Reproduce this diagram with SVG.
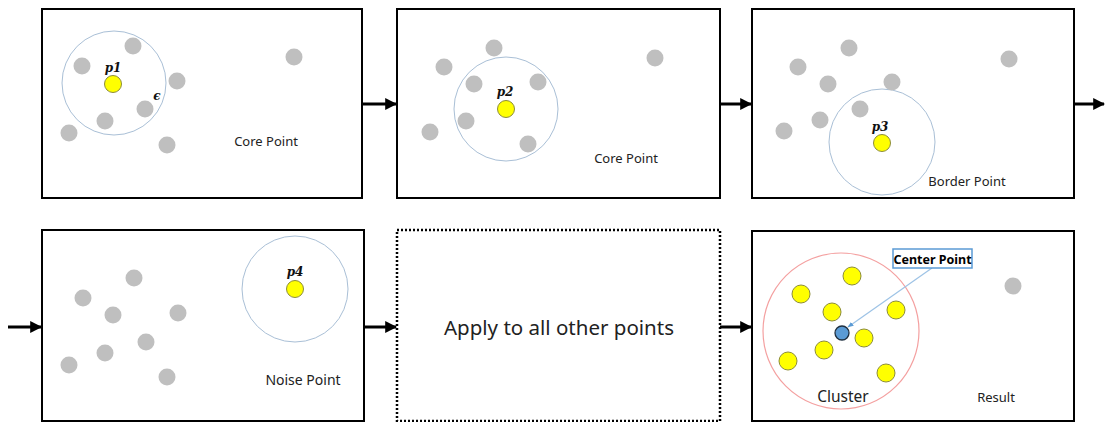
<svg xmlns="http://www.w3.org/2000/svg" width="1105" height="422" viewBox="0 0 1105 422">
  <defs>
    <marker id="head" viewBox="0 0 10 10" refX="9" refY="5" markerWidth="4" markerHeight="4" markerUnits="strokeWidth" orient="auto">
      <path d="M0,0 L10,5 L0,10 z" fill="#000"/>
    </marker>
    <marker id="headBlue" viewBox="0 0 10 10" refX="9" refY="5" markerWidth="6" markerHeight="6" markerUnits="userSpaceOnUse" orient="auto">
      <path d="M0,1 L10,5 L0,9 z" fill="#5b9bd5"/>
    </marker>
  </defs>
  <style>
    .panel { fill: #fff; stroke: #000; stroke-width: 2; }
    .dotted { fill: #fff; stroke: #000; stroke-width: 2.5; stroke-dasharray: 2 2; }
    .eps { fill: none; stroke: #a9bfd6; stroke-width: 1; }
    .clus { fill: none; stroke: #f4a0a0; stroke-width: 1.2; }
    .g { fill: #bfbfbf; }
    .y { fill: #ffff00; stroke: #8c8c3a; stroke-width: 1; }
    .c { fill: #5b9bd5; stroke: #1f2f3f; stroke-width: 1.3; }
    .lbl { font-family: "Noto Sans", "Open Sans", sans-serif; font-size: 13px; fill: #222; text-anchor: middle; }
    .math { font-family: "DejaVu Serif", "Liberation Serif", serif; font-weight: bold; font-style: italic; font-size: 12px; fill: #111; text-anchor: middle; }
    .flow { stroke: #000; stroke-width: 3; fill: none; }
  </style>
  <rect width="1105" height="422" fill="#fff"/>

  <!-- flow connectors -->
  <g id="connectors">
    <line class="flow" x1="362" y1="104" x2="396" y2="104" marker-end="url(#head)"/>
    <line class="flow" x1="720" y1="104" x2="751" y2="104" marker-end="url(#head)"/>
    <line class="flow" x1="1074" y1="104" x2="1104" y2="104" marker-end="url(#head)"/>
    <line class="flow" x1="8" y1="327" x2="41" y2="327" marker-end="url(#head)"/>
    <line class="flow" x1="364" y1="327" x2="396" y2="327" marker-end="url(#head)"/>
    <line class="flow" x1="720" y1="327" x2="751" y2="327" marker-end="url(#head)"/>
  </g>

  <!-- step 1: core point p1 -->
  <g id="step-core-1">
    <rect class="panel" x="42" y="9" width="320" height="189"/>
    <circle class="eps" cx="114" cy="83" r="52"/>
    <circle class="g" cx="133" cy="46" r="8.5"/>
    <circle class="g" cx="82" cy="66" r="8.5"/>
    <circle class="g" cx="177" cy="81" r="8.5"/>
    <circle class="g" cx="145" cy="109" r="8.5"/>
    <circle class="g" cx="105" cy="121" r="8.5"/>
    <circle class="g" cx="69" cy="133" r="8.5"/>
    <circle class="g" cx="167" cy="145" r="8.5"/>
    <circle class="g" cx="294" cy="57" r="8.5"/>
    <circle class="y" cx="113" cy="84" r="8.5"/>
    <text class="math" x="113" y="72">p1</text>
    <text class="math" x="157" y="100">ϵ</text>
    <text class="lbl" x="266" y="146">Core Point</text>
  </g>

  <!-- step 2: core point p2 -->
  <g id="step-core-2">
    <rect class="panel" x="397" y="9" width="323" height="189"/>
    <circle class="eps" cx="506" cy="109" r="52"/>
    <circle class="g" cx="494" cy="48" r="8.5"/>
    <circle class="g" cx="444" cy="67" r="8.5"/>
    <circle class="g" cx="474" cy="84" r="8.5"/>
    <circle class="g" cx="538" cy="82" r="8.5"/>
    <circle class="g" cx="466" cy="121" r="8.5"/>
    <circle class="g" cx="430" cy="132" r="8.5"/>
    <circle class="g" cx="528" cy="144" r="8.5"/>
    <circle class="g" cx="655" cy="58" r="8.5"/>
    <circle class="y" cx="506" cy="109" r="8.5"/>
    <text class="math" x="505" y="96">p2</text>
    <text class="lbl" x="626" y="163">Core Point</text>
  </g>

  <!-- step 3: border point p3 -->
  <g id="step-border">
    <rect class="panel" x="752" y="9" width="322" height="189"/>
    <circle class="eps" cx="882" cy="142" r="53"/>
    <circle class="g" cx="849" cy="48" r="8.5"/>
    <circle class="g" cx="798" cy="67" r="8.5"/>
    <circle class="g" cx="828" cy="84" r="8.5"/>
    <circle class="g" cx="892" cy="82" r="8.5"/>
    <circle class="g" cx="860" cy="109" r="8.5"/>
    <circle class="g" cx="820" cy="120" r="8.5"/>
    <circle class="g" cx="784" cy="131" r="8.5"/>
    <circle class="g" cx="1009" cy="59" r="8.5"/>
    <circle class="y" cx="882" cy="143" r="8.5"/>
    <text class="math" x="880" y="131">p3</text>
    <text class="lbl" x="967" y="186">Border Point</text>
  </g>

  <!-- step 4: noise point p4 -->
  <g id="step-noise">
    <rect class="panel" x="42" y="230" width="322" height="191"/>
    <circle class="eps" cx="295" cy="289" r="53"/>
    <circle class="g" cx="134" cy="278" r="8.5"/>
    <circle class="g" cx="83" cy="298" r="8.5"/>
    <circle class="g" cx="113" cy="315" r="8.5"/>
    <circle class="g" cx="178" cy="313" r="8.5"/>
    <circle class="g" cx="146" cy="342" r="8.5"/>
    <circle class="g" cx="105" cy="353" r="8.5"/>
    <circle class="g" cx="69" cy="365" r="8.5"/>
    <circle class="g" cx="167" cy="377" r="8.5"/>
    <circle class="y" cx="295" cy="289" r="8.5"/>
    <text class="math" x="295" y="276">p4</text>
    <text class="lbl" x="303" y="385" style="font-size:14px">Noise Point</text>
  </g>

  <!-- step 5: repeat for every point -->
  <g id="step-repeat">
    <rect class="dotted" x="397" y="230" width="323" height="191"/>
    <text class="lbl" x="559" y="335" style="font-size:20.5px">Apply to all other points</text>
  </g>

  <!-- step 6: resulting cluster -->
  <g id="step-result">
    <rect class="panel" x="752" y="231" width="322" height="190"/>
    <circle class="clus" cx="841" cy="331" r="78"/>
    <circle class="y" cx="852" cy="276" r="9"/>
    <circle class="y" cx="801" cy="294" r="9"/>
    <circle class="y" cx="832" cy="312" r="9"/>
    <circle class="y" cx="896" cy="310" r="9"/>
    <circle class="y" cx="864" cy="338" r="9"/>
    <circle class="y" cx="824" cy="350" r="9"/>
    <circle class="y" cx="788" cy="361" r="9"/>
    <circle class="y" cx="886" cy="373" r="9"/>
    <circle class="c" cx="842" cy="333" r="7"/>
    <circle class="g" cx="1013" cy="286" r="8.5"/>
    <line x1="932" y1="268" x2="848" y2="327" stroke="#9dc3e6" stroke-width="1.2" marker-end="url(#headBlue)"/>
    <rect x="893" y="249" width="79" height="19" fill="#fff" stroke="#5b9bd5" stroke-width="1.5"/>
    <text class="lbl" x="932.5" y="263.5" style="font-weight:bold;font-size:12.5px;fill:#000">Center Point</text>
    <text class="lbl" x="843" y="402" style="font-size:15.5px">Cluster</text>
    <text class="lbl" x="996" y="402">Result</text>
  </g>
</svg>
